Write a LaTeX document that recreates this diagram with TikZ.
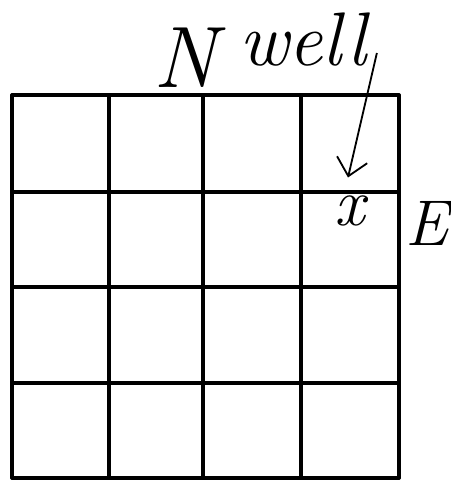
\documentclass[tikz,border=0pt]{standalone}
\usepackage{fontspec}
\usetikzlibrary{arrows.meta, positioning, calc}
\tikzset{
  gridline/.style = {line width=2.4pt, line cap=round},
  myarr/.style    = {-{Straight Barb[length=12pt, width=22pt]}, line width=1.3pt},
  hand/.style     = {inner sep=0pt, font=\itshape},
}

\begin{document}
\begin{tikzpicture}[x=0.025cm, y=-0.025cm]
\useasboundingbox (0,0) rectangle (450,481);

%% ---- (1) 4 x 4 grid ----
\foreach \gx in {12, 109, 203, 301, 399} {
  \draw[gridline] (\gx, 95) -- (\gx, 478);
}
\foreach \gy in {95, 192, 287, 383, 478} {
  \draw[gridline] (12, \gy) -- (399, \gy);
}

%% ---- (2) Labels ----
\node[hand, font=\fontsize{62}{62}\selectfont\itshape] (north) at (185, 58) {N};
\node[hand, font=\fontsize{54}{54}\selectfont\itshape] (well)  at (303, 40) {well};
\node[hand, font=\fontsize{48}{48}\selectfont\itshape] (xmark) at (350, 211) {x};
\node[hand, font=\fontsize{46}{46}\selectfont\itshape] (east)  at (427, 223) {E};

%% ---- (3) well -> x ----
\draw[myarr] ($(well.south east)+(10,-14)$) -- ($(xmark.north)+(-2,-18)$);

\end{tikzpicture}
\end{document}
